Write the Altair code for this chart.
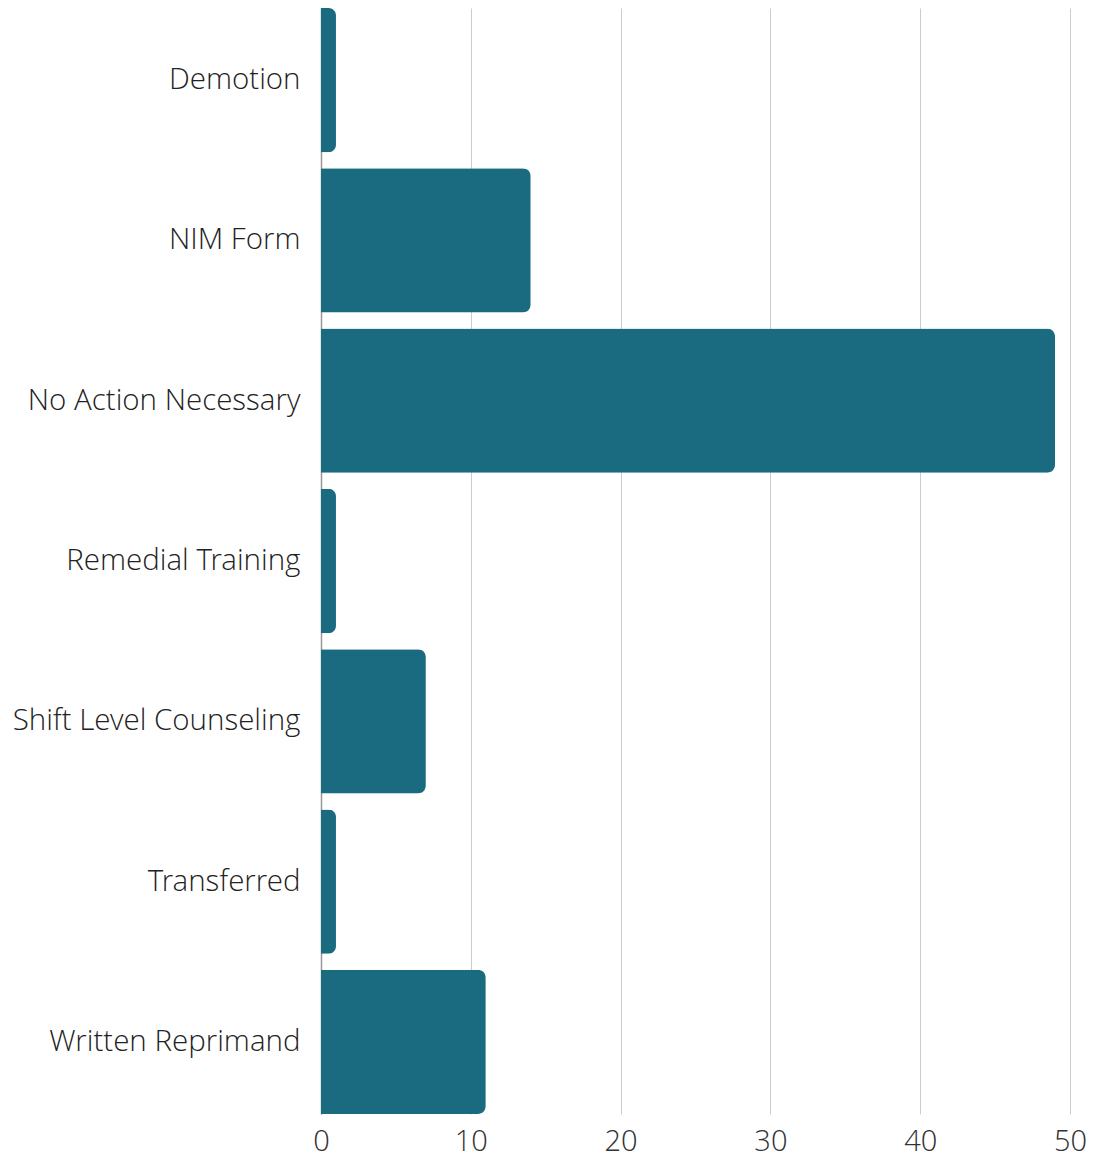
import altair as alt
import pandas as pd

categories = ["Demotion", "NIM Form", "No Action Necessary", "Remedial Training",
              "Shift Level Counseling", "Transferred", "Written Reprimand"]
values = [1, 14, 49, 1, 7, 1, 11]
x_ticks = [0, 10, 20, 30, 40, 50]

df = pd.DataFrame({"category": categories, "count": values})

FONT = "Open Sans Light, Open Sans"

chart = alt.Chart(df).mark_bar(
    color="#1a6b80", cornerRadiusEnd=8
).encode(
    x=alt.X("count:Q",
            scale=alt.Scale(domain=[0, 50], nice=False),
            axis=alt.Axis(title=None, values=x_ticks, grid=True, gridColor="#cccccc",
                          gridWidth=1, domain=False, ticks=False, labelFlush=False,
                          labelFont=FONT, labelFontWeight=300, labelFontSize=29,
                          labelColor="#333333", labelPadding=13)),
    y=alt.Y("category:N", sort=categories,
            scale=alt.Scale(paddingInner=0.1, paddingOuter=0),
            axis=alt.Axis(title=None, domain=True, domainColor="#999999", domainWidth=1.5,
                          ticks=False, grid=False, labelLimit=400,
                          labelFont=FONT, labelFontWeight=300, labelFontSize=29.5,
                          labelColor="#222222", labelPadding=21)),
).properties(
    width=749, height=1106,
    autosize=alt.AutoSizeParams(type="none"),
    padding={"left": 313, "top": 0, "right": 17, "bottom": 46},
).configure_view(stroke=None)

chart.save("out.html", embed_options={"renderer": "svg", "actions": False})
